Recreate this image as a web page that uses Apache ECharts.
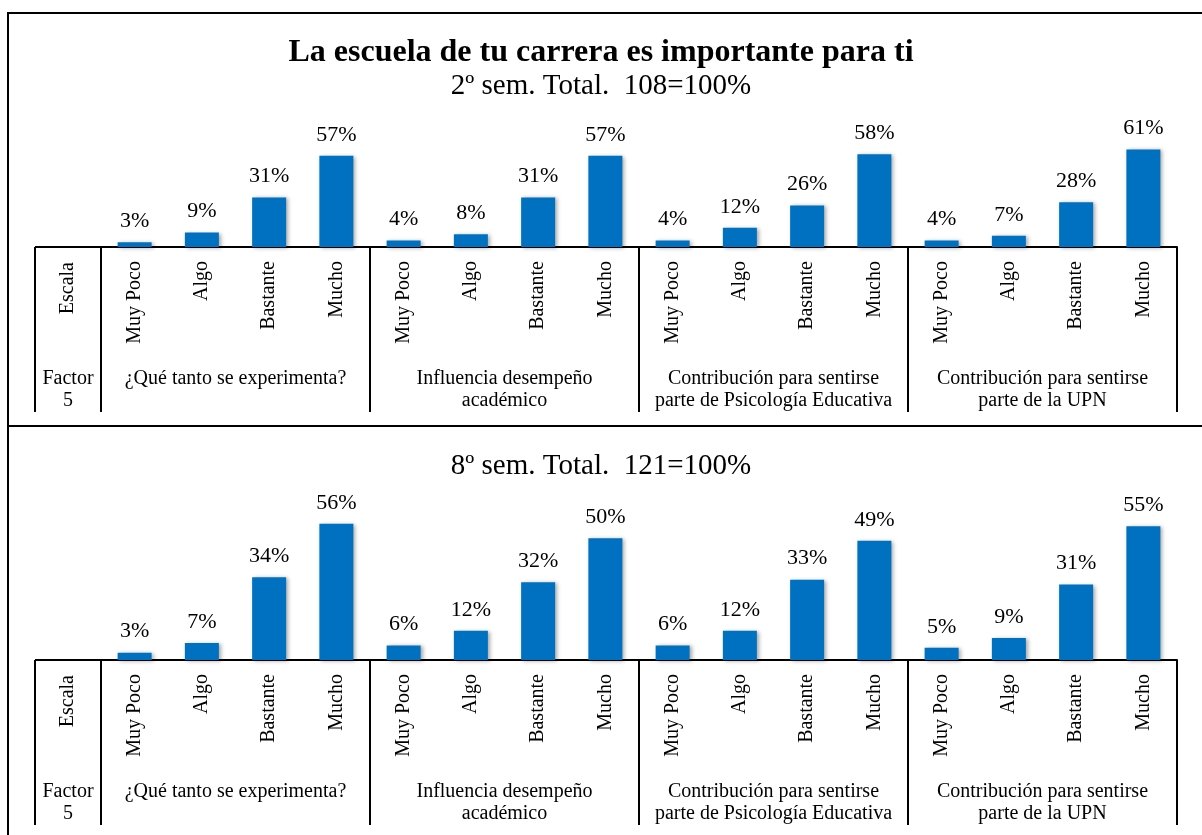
<!DOCTYPE html>
<html>
<head>
<meta charset="utf-8">
<script src="https://cdn.jsdelivr.net/npm/echarts@6/dist/echarts.min.js"></script>
<style>
  html, body { margin: 0; padding: 0; background: #fff; }
  #chart { width: 1202px; height: 835px; }
</style>
</head>
<body>
<div id="chart"></div>
<script>
const escala = ['Muy Poco', 'Algo', 'Bastante', 'Mucho']
const factores = [
  '¿Qué tanto se experimenta?',
  'Influencia desempeño\nacadémico',
  'Contribución para sentirse\nparte de Psicología Educativa',
  'Contribución para sentirse\nparte de la UPN'
]
// 2º semestre, por factor
const sem2 = [3, 9, 31, 57, 4, 8, 31, 57, 4, 12, 26, 58, 4, 7, 28, 61]
// 8º semestre, por factor
const sem8 = [3, 7, 34, 56, 6, 12, 32, 50, 6, 12, 33, 49, 5, 9, 31, 55]

const categorias = factores.flatMap(() => escala)

const font = 'Liberation Serif'
const gridLeft = 101, gridRight = 1177, colLeft = 35
const base1 = 247, base2 = 660, tablaAlto = 165

const chart = echarts.init(document.getElementById('chart'))

const ejeEscala = (gi) => ({
  type: 'category',
  gridIndex: gi,
  data: categorias,
  axisLine: { lineStyle: { color: '#000', width: 2 } },
  axisTick: { show: false },
  axisLabel: { rotate: 90, interval: 0, margin: 14, color: '#000', fontFamily: font, fontSize: 20 }
})
const ejeFactor = (gi) => ({
  type: 'category',
  gridIndex: gi,
  data: factores,
  position: 'bottom',
  axisLine: { show: false },
  axisTick: { show: true, interval: 0, length: tablaAlto, lineStyle: { color: '#000', width: 2 } },
  axisLabel: { interval: 0, margin: 121, color: '#000', fontFamily: font, fontSize: 20, lineHeight: 22 }
})
const serie = (i, data) => ({
  type: 'bar',
  xAxisIndex: i * 2,
  yAxisIndex: i,
  data: data,
  barWidth: 34,
  itemStyle: {
    color: '#0070C0',
    shadowColor: 'rgba(0,0,0,0.35)',
    shadowBlur: 4,
    shadowOffsetX: 2,
    shadowOffsetY: 1
  },
  label: {
    show: true,
    position: 'top',
    distance: 10,
    formatter: '{c}%',
    color: '#000',
    fontFamily: font,
    fontSize: 22
  }
})

// columna "Escala / Factor 5" a la izquierda de cada tabla
const columna = (base) => [
  { type: 'line', shape: { x1: colLeft, y1: base, x2: gridLeft, y2: base }, style: { stroke: '#000', lineWidth: 2 } },
  { type: 'line', shape: { x1: colLeft, y1: base, x2: colLeft, y2: base + tablaAlto }, style: { stroke: '#000', lineWidth: 2 } },
  { type: 'text', x: (colLeft + gridLeft) / 2, y: base + 15, rotation: Math.PI / 2,
    style: { text: 'Escala', align: 'right', verticalAlign: 'middle', font: '20px "' + font + '"', fill: '#000' } },
  { type: 'text', x: (colLeft + gridLeft) / 2, y: base + 121,
    style: { text: 'Factor\n5', align: 'center', verticalAlign: 'top', font: '20px "' + font + '"', lineHeight: 22, fill: '#000' } }
]

const option = {
  animation: false,
  title: [
    { text: 'La escuela de tu carrera es importante para ti', left: 'center', top: 37, padding: 0,
      textStyle: { fontFamily: font, fontSize: 32, fontWeight: 'bold', color: '#000' } },
    { text: '2º sem. Total.  108=100%', left: 'center', top: 72, padding: 0,
      textStyle: { fontFamily: font, fontSize: 29, fontWeight: 'normal', color: '#000' } },
    { text: '8º sem. Total.  121=100%', left: 'center', top: 452, padding: 0,
      textStyle: { fontFamily: font, fontSize: 29, fontWeight: 'normal', color: '#000' } }
  ],
  grid: [
    { left: gridLeft, right: 1202 - gridRight, top: base1 - 112, height: 112 },
    { left: gridLeft, right: 1202 - gridRight, top: base2 - 146, height: 146 }
  ],
  xAxis: [ejeEscala(0), ejeFactor(0), ejeEscala(1), ejeFactor(1)],
  yAxis: [
    { type: 'value', gridIndex: 0, min: 0, max: 70, show: false },
    { type: 'value', gridIndex: 1, min: 0, max: 60, show: false }
  ],
  series: [serie(0, sem2), serie(1, sem8)],
  graphic: [
    { type: 'polyline', shape: { points: [[8, 835], [8, 13], [1202, 13]] }, style: { stroke: '#000', lineWidth: 2, fill: null } },
    { type: 'line', shape: { x1: 8, y1: 426, x2: 1202, y2: 426 }, style: { stroke: '#000', lineWidth: 2 } },
    ...columna(base1),
    ...columna(base2)
  ]
}

chart.setOption(option)
</script>
</body>
</html>
